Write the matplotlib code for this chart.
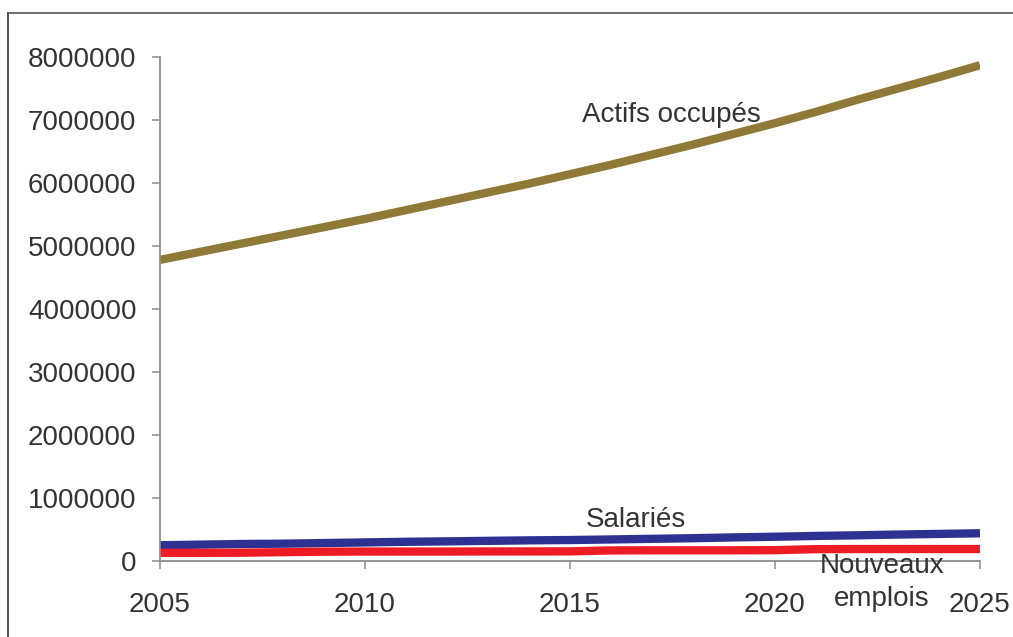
import matplotlib.pyplot as plt
from matplotlib.lines import Line2D

plt.rcParams['font.family'] = ['Liberation Sans', 'DejaVu Sans']

years = list(range(2005, 2026))
actifs_occupes = [4780000, 4910000, 5040000, 5170000, 5300000, 5430000, 5570000,
                  5710000, 5850000, 5990000, 6140000, 6290000, 6450000, 6610000,
                  6780000, 6950000, 7130000, 7320000, 7500000, 7680000, 7870000]
salaries = [250000, 260000, 270000, 275000, 285000, 295000, 305000, 312000,
            320000, 328000, 333000, 342000, 352000, 362000, 375000, 385000,
            398000, 408000, 420000, 430000, 440000]
nouveaux_emplois = [130000, 130000, 132000, 140000, 148000, 150000, 150000,
                    150000, 152000, 152000, 153000, 168000, 170000, 170000,
                    170000, 172000, 188000, 190000, 190000, 190000, 190000]

x_ticks = [2005, 2010, 2015, 2020, 2025]
y_ticks = [0, 1000000, 2000000, 3000000, 4000000, 5000000, 6000000, 7000000, 8000000]

text_color = '#333333'
axis_color = '#8c8c8c'
fs = 20

fig = plt.figure(figsize=(10.13, 6.37), dpi=100)
ax = fig.add_axes([0.158, 0.1193, 0.9674 - 0.158, 0.9105 - 0.1193])

ax.plot(years, actifs_occupes, color='#8e7a36', lw=6, solid_capstyle='butt')
ax.plot(years, salaries, color='#2e3192', lw=6, solid_capstyle='butt')
ax.plot(years, nouveaux_emplois, color='#ed1c24', lw=6, solid_capstyle='butt')

ax.set_xlim(2005, 2025)
ax.set_ylim(0, 8000000)
ax.set_xticks(x_ticks)
ax.set_xticklabels([str(v) for v in x_ticks])
ax.set_yticks(y_ticks)
ax.set_yticklabels([str(v) for v in y_ticks])

for side in ['top', 'right']:
    ax.spines[side].set_visible(False)
for side in ['left', 'bottom']:
    ax.spines[side].set_color(axis_color)
    ax.spines[side].set_linewidth(1.3)

ax.tick_params(axis='y', direction='out', length=6, width=1.1, color=axis_color,
               labelsize=fs, labelcolor=text_color, pad=11)
ax.tick_params(axis='x', direction='out', length=6, width=1.1, color=axis_color,
               labelsize=fs, labelcolor=text_color, pad=16)

ax.text(2015.3, 7080000, 'Actifs occupés', fontsize=fs, color=text_color,
        ha='left', va='center')
ax.text(2016.6, 650000, 'Salariés', fontsize=fs, color=text_color,
        ha='center', va='center')
ax.text(2022.6, -340000, 'Nouveaux\nemplois', fontsize=fs, color=text_color,
        ha='center', va='center', linespacing=1.32, clip_on=False)

# outer frame (left and top edges)
fx = 8 / 1013
fy = 1 - 13 / 637
fig.add_artist(Line2D([fx, fx], [0, fy], transform=fig.transFigure,
                      color='#333333', lw=1.2))
fig.add_artist(Line2D([fx, 1], [fy, fy], transform=fig.transFigure,
                      color='#555555', lw=1.2))

fig.savefig('out.png', dpi=100)
